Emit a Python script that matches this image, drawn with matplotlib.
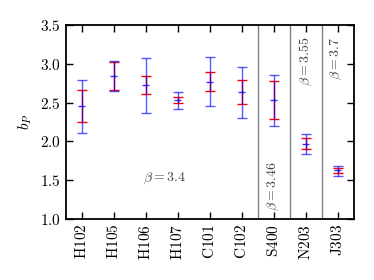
import matplotlib
matplotlib.use("Agg")
import matplotlib.pyplot as plt
import numpy as np

plt.rcParams['mathtext.fontset'] = 'cm'
plt.rcParams['font.family'] = 'DejaVu Serif'

ensembles = ['H102', 'H105', 'H106', 'H107', 'C101', 'C102', 'S400', 'N203', 'J303']
center = [2.452, 2.843, 2.723, 2.534, 2.769, 2.633, 2.534, 1.971, 1.627]
err_stat_up = [0.206, 0.185, 0.120, 0.034, 0.125, 0.154, 0.240, 0.069, 0.034]
err_stat_dn = [0.206, 0.185, 0.116, 0.043, 0.120, 0.155, 0.245, 0.069, 0.034]
err_tot_up = [0.343, 0.193, 0.356, 0.107, 0.319, 0.330, 0.326, 0.124, 0.060]
err_tot_dn = [0.344, 0.193, 0.353, 0.120, 0.317, 0.328, 0.332, 0.129, 0.069]
betas = ['3.4', '3.46', '3.55', '3.7']
dividers = [5.5, 6.5, 7.5]
yticks = [1.0, 1.5, 2.0, 2.5, 3.0, 3.5]

fig = plt.figure(figsize=(3.74, 2.8), dpi=100)
ax = fig.add_axes([65.5/374, 1 - 219/280, (353.5-65.5)/374, (219-25)/280])

x = np.arange(len(ensembles))
ax.errorbar(x, center, yerr=[err_stat_dn, err_stat_up], fmt='none', ecolor='r',
            elinewidth=1.0, capsize=3.5, capthick=1.0)
ax.errorbar(x, center, yerr=[err_tot_dn, err_tot_up], fmt='none', ecolor='b',
            elinewidth=1.0, capsize=3.5, capthick=1.0, alpha=0.65)
ax.errorbar(x, center, xerr=0.12, fmt='none', ecolor='b', elinewidth=1.0, alpha=0.8)

for d in dividers:
    ax.axvline(d, color='gray', lw=1.0)

ax.text(2.6, 1.53, r'$\beta = %s$' % betas[0], ha='center', va='center', fontsize=10, color='0.25')
ax.text(6, 1.1, r'$\beta = %s$' % betas[1], ha='center', va='bottom', rotation=90, fontsize=10, color='0.25')
ax.text(7.02, 3.35, r'$\beta = %s$' % betas[2], ha='center', va='top', rotation=90, fontsize=10, color='0.25')
ax.text(7.95, 3.35, r'$\beta = %s$' % betas[3], ha='center', va='top', rotation=90, fontsize=10, color='0.25')

ax.set_xlim(-0.5, 8.5)
ax.set_ylim(1.0, 3.5)
ax.set_xticks(x)
ax.set_xticklabels([r'$\mathrm{%s}$' % e for e in ensembles], rotation=90, fontsize=11)
ax.set_yticks(yticks)
ax.set_yticklabels([r'$%.1f$' % v for v in yticks], fontsize=11)
ax.set_ylabel(r'$b_P$', fontsize=11)
ax.tick_params(direction='in', top=True, right=True, length=5, width=1)
for s in ax.spines.values():
    s.set_linewidth(1.3)

fig.savefig('out.png', dpi=100)
